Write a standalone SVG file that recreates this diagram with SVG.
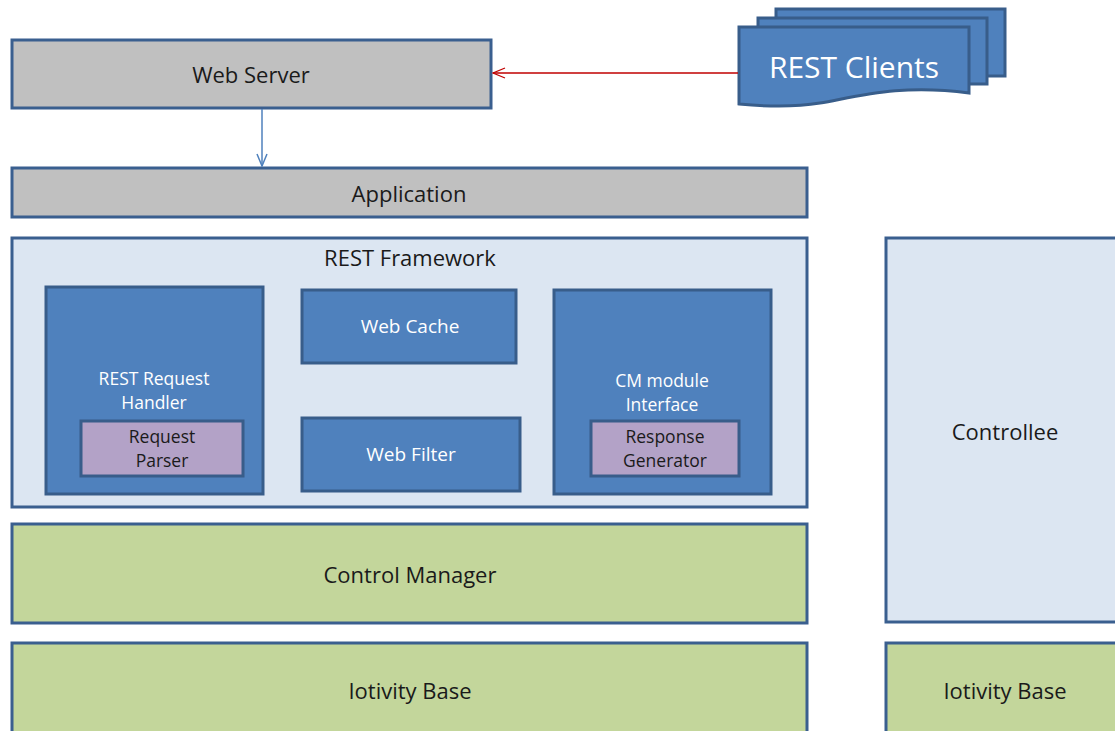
<svg xmlns="http://www.w3.org/2000/svg" width="1115" height="731" viewBox="0 0 1115 731">
<style>
text{font-family:"Open Sans","DejaVu Sans",sans-serif;text-anchor:middle;dominant-baseline:central}
.gray{fill:#c0c0c0;stroke:#3a5f8f;stroke-width:3}
.light{fill:#dce6f2;stroke:#3a5f8f;stroke-width:3}
.blue{fill:#4f81bd;stroke:#385d8a;stroke-width:3}
.purple{fill:#b3a2c7;stroke:#385d8a;stroke-width:3}
.green{fill:#c3d69b;stroke:#3a5f8f;stroke-width:3}
.dk{fill:#1a1a1a;font-size:22px}
.wt{fill:#ffffff;font-size:19px}
.wt2{fill:#ffffff;font-size:17.5px}
.sm{fill:#1a1a1a;font-size:17.5px}
</style>
<defs>
<marker id="ah-red" markerWidth="14" markerHeight="12" refX="13" refY="6" orient="auto" markerUnits="userSpaceOnUse">
<path d="M1,1 L13,6 L1,11" fill="none" stroke="#c00000" stroke-width="1.3"/>
</marker>
<marker id="ah-blue" markerWidth="14" markerHeight="12" refX="13" refY="6" orient="auto" markerUnits="userSpaceOnUse">
<path d="M1,1 L13,6 L1,11" fill="none" stroke="#4f81bd" stroke-width="1.5"/>
</marker>
</defs>
<rect width="1115" height="731" fill="#ffffff"/>
<g id="web-server"><rect class="gray" x="12" y="40" width="479" height="68"/><text class="dk" x="251" y="74">Web Server</text></g>
<g id="rest-clients">
<rect x="776" y="9" width="229" height="67" fill="#4f81bd" stroke="#385d8a" stroke-width="3"/>
<path d="M758,18 H987 V84 H758 Z" fill="#4f81bd" stroke="#385d8a" stroke-width="3"/>
<path d="M739,27 H969 V93 C900,84 860,96 820,103 C790,108 760,106 739,104 Z" fill="#4f81bd" stroke="#385d8a" stroke-width="3"/>
<text x="854" y="66" fill="#ffffff" style="font-size:30px">REST Clients</text>
</g>
<g id="application"><rect class="gray" x="12" y="168" width="795" height="49"/><text class="dk" x="409" y="193">Application</text></g>
<g id="rest-framework"><rect class="light" x="12" y="238" width="795" height="269"/><text class="dk" x="410" y="257">REST Framework</text></g>
<g id="rest-request-handler"><rect class="blue" x="46" y="287" width="217" height="207"/><text class="wt2" x="154" y="378">REST Request</text><text class="wt2" x="154" y="402">Handler</text></g>
<g id="request-parser"><rect class="purple" x="81" y="421" width="162" height="55"/><text class="sm" x="162" y="436">Request</text><text class="sm" x="162" y="460">Parser</text></g>
<g id="web-cache"><rect class="blue" x="302" y="290" width="214" height="73"/><text class="wt" x="410" y="326">Web Cache</text></g>
<g id="web-filter"><rect class="blue" x="302" y="418" width="218" height="73"/><text class="wt" x="411" y="454">Web Filter</text></g>
<g id="cm-module-interface"><rect class="blue" x="554" y="290" width="217" height="204"/><text class="wt2" x="662" y="380">CM module</text><text class="wt2" x="662" y="404">Interface</text></g>
<g id="response-generator"><rect class="purple" x="591" y="421" width="148" height="55"/><text class="sm" x="665" y="436">Response</text><text class="sm" x="665" y="460">Generator</text></g>
<g id="control-manager"><rect class="green" x="12" y="524" width="795" height="99"/><text class="dk" x="410" y="574">Control Manager</text></g>
<g id="iotivity-base-left"><rect class="green" x="12" y="643" width="795" height="100"/><text class="dk" x="410" y="690">Iotivity Base</text></g>
<g id="controllee"><rect class="light" x="886" y="238" width="240" height="384"/><text class="dk" x="1005" y="431">Controllee</text></g>
<g id="iotivity-base-right"><rect class="green" x="886" y="643" width="240" height="100"/><text class="dk" x="1005" y="690">Iotivity Base</text></g>
<g id="connectors">
<line x1="738" y1="73" x2="493" y2="73" stroke="#c00000" stroke-width="1.3" marker-end="url(#ah-red)"/>
<line x1="262" y1="109" x2="262" y2="166" stroke="#4f81bd" stroke-width="1.5" marker-end="url(#ah-blue)"/>
</g>
</svg>
